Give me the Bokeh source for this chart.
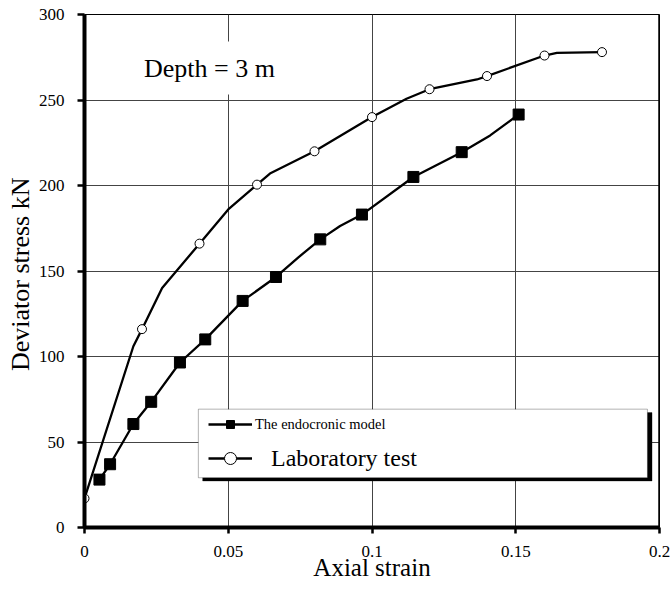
from bokeh.plotting import figure
from bokeh.models import (Range1d, FixedTicker, Label, Legend, LegendItem,
                          BoxAnnotation, Span)
from bokeh.embed import file_html
from bokeh.resources import INLINE

# ---- data ----
# Laboratory test: marker points
lab_x = [0.0, 0.02, 0.04, 0.06, 0.08, 0.10, 0.12, 0.14, 0.16, 0.18]
lab_y = [17, 116, 166, 200.5, 220, 240, 256.3, 264, 276, 278]
# Laboratory test: curve points (the drawn line)
lab_curve_x = [0.0, 0.017, 0.02, 0.027, 0.04, 0.05, 0.06, 0.0645, 0.08, 0.10,
               0.112, 0.12, 0.1365, 0.14, 0.16, 0.1643, 0.18]
lab_curve_y = [17, 106, 116, 140, 166, 186, 200.5, 207, 220, 240,
               250.7, 256.3, 262, 264, 276, 277.5, 278]

# Endocronic model: marker points
model_x = [0.0052, 0.0089, 0.017, 0.0232, 0.0332, 0.042, 0.055, 0.0666,
           0.082, 0.0965, 0.1144, 0.1312, 0.151]
model_y = [28, 37, 60.5, 73.5, 96.5, 110, 132.5, 146.5,
           168.5, 183, 205, 219.5, 241.5]
# Endocronic model: curve points
model_curve_x = [0.0052, 0.0089, 0.017, 0.0232, 0.0332, 0.042, 0.055, 0.0666,
                 0.0744, 0.082, 0.0889, 0.0965, 0.1144, 0.1312, 0.1411, 0.151]
model_curve_y = [28, 37, 60.5, 73.5, 96.5, 110, 132.5, 146.5,
                 158, 168.5, 176.3, 183, 205, 219.5, 229.3, 241.5]

x_ticks = [0, 0.05, 0.1, 0.15, 0.2]
x_tick_labels = ["0", "0.05", "0.1", "0.15", "0.2"]
y_ticks = [0, 50, 100, 150, 200, 250, 300]

FONT = "Liberation Serif"

p = figure(width=671, height=589, x_range=Range1d(0, 0.2), y_range=Range1d(0, 300),
           output_backend="svg", toolbar_location=None,
           min_border_left=84, min_border_right=12, min_border_top=14, min_border_bottom=62)

p.background_fill_color = "white"
p.border_fill_color = "white"
p.outline_line_color = "black"
p.outline_line_width = 1
p.outline_line_alpha = 1

# axes
p.xaxis.ticker = FixedTicker(ticks=x_ticks)
p.xaxis.major_label_overrides = {t: s for t, s in zip(x_ticks, x_tick_labels)}
p.yaxis.ticker = FixedTicker(ticks=y_ticks)
for ax in (p.xaxis, p.yaxis):
    ax.axis_line_width = 4
    ax.axis_line_color = "black"
    ax.major_tick_line_width = 2.5
    ax.major_tick_line_color = "black"
    ax.major_tick_in = 0
    ax.minor_tick_line_color = None
    ax.major_label_text_font = FONT
    ax.major_label_text_font_size = "17px"
    ax.major_label_text_color = "black"
    ax.axis_label_text_font = FONT
    ax.axis_label_text_font_style = "normal"
    ax.axis_label_text_color = "black"
p.xaxis.major_tick_out = 6
p.xaxis.major_label_standoff = 12
p.yaxis.major_tick_out = 7
p.yaxis.major_label_standoff = 13

p.xaxis.axis_label = "Axial strain"
p.xaxis.axis_label_text_font_size = "25px"
p.xaxis.axis_label_standoff = -6
p.yaxis.axis_label = "Deviator stress  kN"
p.yaxis.axis_label_text_font_size = "26px"
p.yaxis.axis_label_standoff = 1

# grid
p.xgrid.ticker = FixedTicker(ticks=[0.05, 0.1, 0.15])
p.ygrid.ticker = FixedTicker(ticks=[50, 100, 150, 200, 250])
for g in (p.xgrid, p.ygrid):
    g.grid_line_color = "#444444"
    g.grid_line_width = 1
    g.grid_line_alpha = 1

# right border (thicker)
p.add_layout(Span(location=0.2, dimension="height", line_color="black", line_width=2.5))

# series
lab_line = p.line(lab_curve_x, lab_curve_y, line_color="black", line_width=2.3)
lab_pts = p.scatter(lab_x, lab_y, marker="circle", size=9, fill_color="white",
                    line_color="black", line_width=1)
mod_line = p.line(model_curve_x, model_curve_y, line_color="black", line_width=2.3)
mod_pts = p.scatter(model_x, model_y, marker="square", size=11, fill_color="black",
                    line_color="black", line_width=1)

# "Depth = 3 m" label
p.add_layout(Label(x=0.0165, y=268.7, text="Depth = 3 m", text_font=FONT,
                   text_font_size="26px", text_color="black", text_baseline="alphabetic",
                   background_fill_color="white", padding=12))

# legend box with shadow
p.add_layout(BoxAnnotation(left=0.0411, right=0.1974, bottom=27.2, top=67.2,
                           fill_color="black", fill_alpha=1, line_color="black"))
p.add_layout(BoxAnnotation(left=0.0396, right=0.1958, bottom=29.1, top=69.2,
                           fill_color="white", fill_alpha=1, line_color="black",
                           line_width=1))

leg1 = Legend(items=[LegendItem(label="The endocronic model", renderers=[mod_line, mod_pts])],
              location=(124, 93), padding=0, margin=0, spacing=0,
              border_line_color=None, background_fill_alpha=0,
              glyph_width=44, glyph_height=20, label_height=20, label_standoff=3,
              label_text_font=FONT, label_text_font_size="14.5px", label_text_color="black")
leg2 = Legend(items=[LegendItem(label="Laboratory test", renderers=[lab_line, lab_pts])],
              location=(124, 54), padding=0, margin=0, spacing=0,
              border_line_color=None, background_fill_alpha=0,
              glyph_width=44, glyph_height=30, label_height=30, label_standoff=19,
              label_text_font=FONT, label_text_font_size="24px", label_text_color="black")
p.add_layout(leg1, "center")
p.add_layout(leg2, "center")

open("out.html", "w").write(file_html(p, INLINE))
